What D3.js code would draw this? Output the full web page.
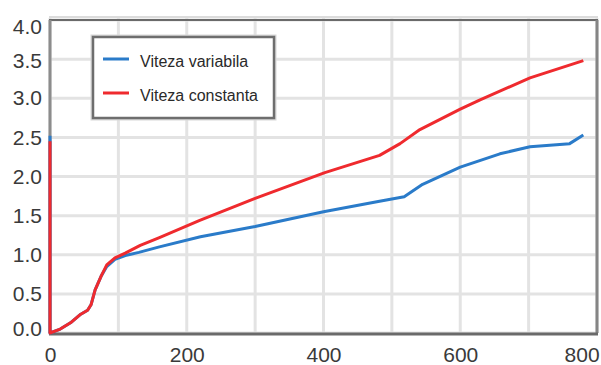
<!DOCTYPE html>
<html><head><meta charset="utf-8">
<script src="https://cdn.jsdelivr.net/npm/d3@7"></script>
<style>html,body{margin:0;padding:0;background:#fff;}</style>
</head><body>
<svg id="chart" width="601" height="365"></svg>
<script>
const seriesNames = ["Viteza variabila", "Viteza constanta"];
const seriesColors = ["#2a7bc9", "#ef2a2e"];
const xVariabila = [0, 0, 15, 30, 45, 55, 60, 66, 75, 83, 95, 110, 130, 160, 220, 300, 400, 480, 518, 545, 600, 658, 702, 760, 780];
const yVariabila = [2.52, 0, 0.05, 0.13, 0.24, 0.29, 0.36, 0.55, 0.73, 0.85, 0.94, 0.99, 1.03, 1.1, 1.23, 1.36, 1.55, 1.68, 1.74, 1.9, 2.12, 2.29, 2.38, 2.42, 2.53];
const xConstanta = [0, 0, 15, 30, 45, 55, 60, 66, 75, 83, 95, 110, 132, 160, 219, 300, 402, 482, 512, 541, 600, 629, 702, 780];
const yConstanta = [2.45, 0, 0.05, 0.13, 0.24, 0.29, 0.36, 0.55, 0.73, 0.87, 0.96, 1.02, 1.12, 1.22, 1.44, 1.72, 2.05, 2.27, 2.42, 2.6, 2.86, 2.98, 3.26, 3.48];
const xTicks = [0, 200, 400, 600, 800];
const xGrid = [0, 100, 200, 300, 400, 500, 600, 700, 800];
const yTicks = [0, 0.5, 1, 1.5, 2, 2.5, 3, 3.5, 4];

const svg = d3.select("#chart");
const L = 50, R = 597, T = 20, B = 333;
const x = d3.scaleLinear().domain([0, 800]).range([L, R]);
const y = d3.scaleLinear().domain([0, 4]).range([B, T]);

// gridlines
svg.append("g").selectAll("line").data(yTicks).join("line")
  .attr("x1", L).attr("x2", R).attr("y1", d => y(d)).attr("y2", d => y(d))
  .attr("stroke", "#e3e3e3").attr("stroke-width", 3);
svg.append("g").selectAll("line").data(xGrid).join("line")
  .attr("x1", d => x(d)).attr("x2", d => x(d)).attr("y1", T - 2).attr("y2", B)
  .attr("stroke", "#e3e3e3").attr("stroke-width", 3);

// frame
svg.append("line").attr("x1", L - 1).attr("x2", R + 1).attr("y1", T - 3).attr("y2", T - 3).attr("stroke", "#dcdcdc").attr("stroke-width", 2);
svg.append("line").attr("x1", L - 1).attr("x2", R + 1).attr("y1", T).attr("y2", T).attr("stroke", "#6a6a6a").attr("stroke-width", 2);
svg.append("line").attr("x1", L).attr("x2", L).attr("y1", T).attr("y2", B).attr("stroke", "#8c8c8c").attr("stroke-width", 3);
svg.append("line").attr("x1", R).attr("x2", R).attr("y1", T).attr("y2", B).attr("stroke", "#858585").attr("stroke-width", 3);
svg.append("line").attr("x1", L - 1).attr("x2", R + 1).attr("y1", B + 1).attr("y2", B + 1).attr("stroke", "#6a6a6a").attr("stroke-width", 3);

// axes (text only)
const yAxis = d3.axisLeft(y).tickValues(yTicks).tickFormat(d3.format(".1f")).tickSize(0).tickPadding(8);
const gy = svg.append("g").attr("transform", `translate(${L},0)`).call(yAxis);
gy.select(".domain").remove();
gy.selectAll("text").attr("font-family", "Liberation Sans, Arial, sans-serif").attr("font-size", 21).attr("fill", "#3a3a3a")
  .attr("dy", d => d === 4 ? "0.62em" : d === 0 ? "0.1em" : d === 3.5 ? "0.42em" : "0.32em");

const xAxis = d3.axisBottom(x).tickValues(xTicks).tickFormat(d3.format("d")).tickSize(0).tickPadding(14);
const gx = svg.append("g").attr("transform", `translate(0,${B})`).call(xAxis);
gx.select(".domain").remove();
gx.selectAll("text").attr("font-family", "Liberation Sans, Arial, sans-serif").attr("font-size", 21).attr("fill", "#3a3a3a")
  .attr("text-anchor", d => d === 800 ? "end" : "middle")
  .attr("dx", d => d === 800 ? "0.1em" : 0);

// lines
const line = d3.line().x(d => x(d[0])).y(d => y(d[1]));
const dataV = xVariabila.map((v, i) => [v, yVariabila[i]]);
const dataC = xConstanta.map((v, i) => [v, yConstanta[i]]);
svg.append("path").datum(dataV).attr("d", line).attr("fill", "none").attr("stroke", seriesColors[0]).attr("stroke-width", 3).attr("stroke-linejoin", "round");
svg.append("path").datum(dataC).attr("d", line).attr("fill", "none").attr("stroke", seriesColors[1]).attr("stroke-width", 3).attr("stroke-linejoin", "round");

// legend
const lg = svg.append("g");
lg.append("rect").attr("x", 93).attr("y", 37).attr("width", 181).attr("height", 81)
  .attr("fill", "#fff").attr("stroke", "#d8d8d8").attr("stroke-width", 5);
lg.append("rect").attr("x", 93).attr("y", 37).attr("width", 181).attr("height", 81)
  .attr("fill", "#fff").attr("stroke", "#6e6e6e").attr("stroke-width", 2.5);
const ly = [59, 93];
seriesNames.forEach((n, i) => {
  lg.append("line").attr("x1", 103).attr("x2", 129).attr("y1", ly[i]).attr("y2", ly[i])
    .attr("stroke", seriesColors[i]).attr("stroke-width", 3);
  lg.append("text").attr("x", 140).attr("y", ly[i] + 8).text(n)
    .attr("font-family", "Liberation Sans, Arial, sans-serif").attr("font-size", 16).attr("fill", "#2a2a2a");
});
</script>
</body></html>
